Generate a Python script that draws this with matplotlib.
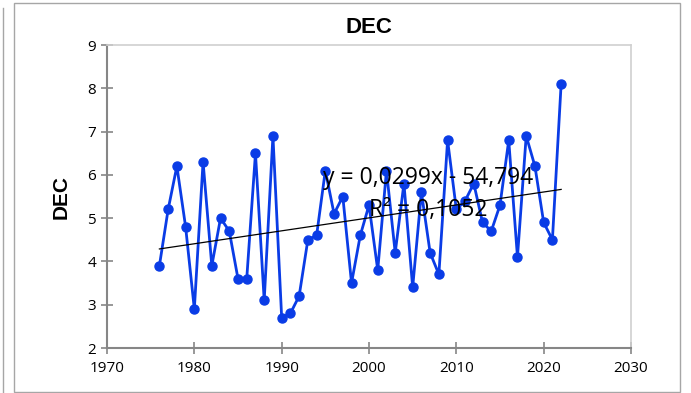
import numpy as np
import matplotlib
matplotlib.use("Agg")
import matplotlib.pyplot as plt
from matplotlib.lines import Line2D
from matplotlib.patches import Rectangle

# ============================
# DATA
# ============================
years = list(range(1976, 2023))
dec = [3.9, 5.2, 6.2, 4.8, 2.9, 6.3, 3.9, 5.0, 4.7, 3.6,
       3.6, 6.5, 3.1, 6.9, 2.7, 2.8, 3.2, 4.5, 4.6, 6.1,
       5.1, 5.5, 3.5, 4.6, 5.3, 3.8, 6.1, 4.2, 5.8, 3.4,
       5.6, 4.2, 3.7, 6.8, 5.2, 5.4, 5.8, 4.9, 4.7, 5.3,
       6.8, 4.1, 6.9, 6.2, 4.9, 4.5, 8.1]

trend_slope = 0.0299
trend_intercept = -54.794
eq_text = "y = 0,0299x - 54,794"
r2_text = "R² = 0,1052"

x_ticks = [1970, 1980, 1990, 2000, 2010, 2020, 2030]
y_ticks = [2, 3, 4, 5, 6, 7, 8, 9]

LINE_BLUE = "#0A3CE6"
AXIS_GRAY = "#868686"
TICK_FONT = "Open Sans"

# ============================
# FIGURE
# ============================
fig = plt.figure(figsize=(6.91, 3.93), dpi=100)
W, H = 691, 393

# outer chart frame + stray border on the left
fig.add_artist(Rectangle((14 / W, 1 - 392 / H), (680 - 14) / W, (392 - 3) / H,
                         transform=fig.transFigure, fill=False,
                         edgecolor="#a6a6a6", linewidth=1.0))
fig.add_artist(Line2D([3 / W, 3 / W], [0, 1 - 8 / H], transform=fig.transFigure,
                      color="#a6a6a6", linewidth=1.0))

ax = fig.add_axes([107 / W, 1 - 348 / H, (631 - 107) / W, (348 - 45) / H])

ax.plot(years, dec, color=LINE_BLUE, linewidth=2.0, marker="o",
        markersize=6.5, zorder=3)

tx = np.array([years[0], years[-1]])
ax.plot(tx, trend_slope * tx + trend_intercept, color="black", linewidth=0.9,
        zorder=4)

ax.text(0.6126, 0.561, eq_text, transform=ax.transAxes, ha="center",
        va="center", fontsize=16.5, family=TICK_FONT, zorder=5)
ax.text(0.6126, 0.455, r2_text, transform=ax.transAxes, ha="center",
        va="center", fontsize=16.5, family=TICK_FONT, zorder=5)

ax.set_xlim(1970, 2030)
ax.set_ylim(2, 9)
ax.set_xticks(x_ticks)
ax.set_yticks(y_ticks)
ax.tick_params(axis="both", direction="inout", length=8, width=1.2,
               color=AXIS_GRAY, labelsize=11)
for lab in ax.get_xticklabels() + ax.get_yticklabels():
    lab.set_family(TICK_FONT)
ax.tick_params(axis="x", pad=5)
ax.tick_params(axis="y", pad=4)

for side in ["left", "bottom"]:
    ax.spines[side].set_color(AXIS_GRAY)
    ax.spines[side].set_linewidth(1.5)
for side in ["top", "right"]:
    ax.spines[side].set_color("#d0d0d0")
    ax.spines[side].set_linewidth(1.2)

ax.set_ylabel("DEC", fontsize=15, fontweight="bold", family="Liberation Sans",
              labelpad=12)
ax.set_title("DEC", fontsize=16, fontweight="bold", family="Liberation Sans",
             pad=9)

fig.savefig("out.png", dpi=100)
